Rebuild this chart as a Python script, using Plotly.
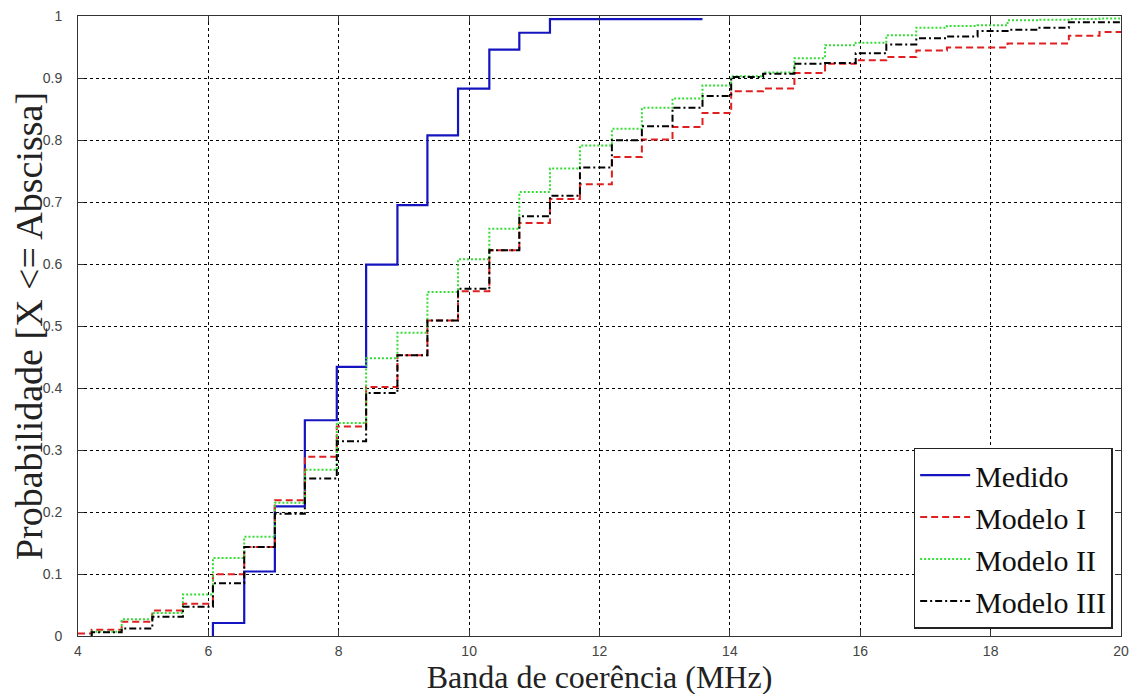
import plotly.graph_objects as go

# ---- data ----
model_edges = [4.21, 4.67, 5.14, 5.61, 6.07, 6.55, 7.02, 7.48, 7.97, 8.42, 8.90, 9.36,
               9.83, 10.31, 10.77, 11.24, 11.70, 12.19, 12.65, 13.12, 13.58, 14.02,
               14.51, 14.99, 15.46, 15.93, 16.40, 16.86, 17.33, 17.80, 18.26, 18.73,
               19.20, 19.67]
modelo1 = [0.010, 0.023, 0.041, 0.052, 0.0995, 0.1435, 0.219, 0.289, 0.338, 0.4016,
           0.4527, 0.509, 0.556, 0.622, 0.666, 0.705, 0.7285, 0.7726, 0.801, 0.821,
           0.8435, 0.8785, 0.883, 0.908, 0.923, 0.9285, 0.934, 0.9445, 0.949, 0.949,
           0.9555, 0.9555, 0.968, 0.974]
modelo2 = [0.007, 0.027, 0.037, 0.067, 0.126, 0.160, 0.215, 0.268, 0.3435, 0.448,
           0.489, 0.555, 0.6076, 0.657, 0.716, 0.754, 0.791, 0.818, 0.852, 0.867,
           0.888, 0.903, 0.9087, 0.932, 0.9527, 0.957, 0.969, 0.981, 0.984, 0.985,
           0.993, 0.994, 0.995, 0.996]
modelo3 = [0.006, 0.012, 0.031, 0.047, 0.085, 0.1435, 0.197, 0.254, 0.314, 0.392,
           0.4527, 0.509, 0.560, 0.622, 0.677, 0.710, 0.7555, 0.7995, 0.822, 0.852,
           0.871, 0.9016, 0.907, 0.923, 0.924, 0.940, 0.954, 0.964, 0.967, 0.976,
           0.978, 0.981, 0.990, 0.990]
modelo1_start = (4.0, 0.004)

medido_edges = [6.07, 6.55, 7.02, 7.48, 7.97, 8.42, 8.90, 9.36, 9.83, 10.31, 10.77, 11.24]
medido = [0.021, 0.104, 0.209, 0.348, 0.434, 0.599, 0.695, 0.8076, 0.883, 0.9457, 0.973, 0.995]
medido_end = 13.58

x_end = 20.0
xticks = [4, 6, 8, 10, 12, 14, 16, 18, 20]
yticks = [0, 0.1, 0.2, 0.3, 0.4, 0.5, 0.6, 0.7, 0.8, 0.9, 1]
ytick_text = ["0", "0.1", "0.2", "0.3", "0.4", "0.5", "0.6", "0.7", "0.8", "0.9", "1"]


def step_series(edges, levels, end, start=None):
    if start is None:
        xs = [edges[0]] + list(edges) + [end]
        ys = [0.0] + list(levels) + [levels[-1]]
    else:
        xs = [start[0]] + list(edges) + [end]
        ys = [start[1]] + list(levels) + [levels[-1]]
    return xs, ys


fig = go.Figure()

mx, my = step_series(medido_edges, medido, medido_end)
fig.add_trace(go.Scatter(x=mx, y=my, mode="lines", name="Medido", line_shape="hv",
                         line=dict(color="#1414C0", width=2.2)))
x1, y1 = step_series(model_edges, modelo1, x_end, start=modelo1_start)
fig.add_trace(go.Scatter(x=x1, y=y1, mode="lines", name="Modelo I", line_shape="hv",
                         line=dict(color="#E02020", width=2, dash="7px,4px")))
x2, y2 = step_series(model_edges, modelo2, x_end)
fig.add_trace(go.Scatter(x=x2, y=y2, mode="lines", name="Modelo II", line_shape="hv",
                         line=dict(color="#33DD33", width=2, dash="2px,2px")))
x3, y3 = step_series(model_edges, modelo3, x_end)
fig.add_trace(go.Scatter(x=x3, y=y3, mode="lines", name="Modelo III", line_shape="hv",
                         line=dict(color="#000000", width=2, dash="7px,3px,2px,3px")))

axis_common = dict(
    showline=True, linecolor="#333333", linewidth=1, mirror="ticks",
    ticks="inside", ticklen=6, tickcolor="#333333",
    showgrid=True, gridcolor="#000000", gridwidth=1, griddash="3px,3px",
    zeroline=False, automargin=False, ticklabeloverflow="allow",
    tickfont=dict(family="Liberation Sans, Arial", size=14, color="#444444"),
)

# The page body has an 8px default margin, so margins are offset to match.
fig.update_layout(
    width=1137, height=694,
    margin=dict(l=70, r=24, t=8, b=66),
    paper_bgcolor="white", plot_bgcolor="white",
    xaxis=dict(range=[4, 20], tickvals=xticks, ticklabelstandoff=2, **axis_common,
               title=dict(text="Banda de coerência (MHz)", standoff=4,
                          font=dict(family="Liberation Serif, Times New Roman", size=32, color="#222222"))),
    yaxis=dict(range=[0, 1], tickvals=yticks, ticktext=ytick_text, ticklabelstandoff=12, **axis_common,
               title=dict(text="Probabilidade [X <= Abscissa]", standoff=4,
                          font=dict(family="Liberation Serif, Times New Roman", size=38, color="#222222"))),
    legend=dict(x=0.992, y=0.012, xanchor="right", yanchor="bottom",
                bgcolor="white", bordercolor="#222222", borderwidth=1.5,
                font=dict(family="Liberation Serif, Times New Roman", size=30, color="#111111"),
                tracegroupgap=0, itemwidth=50),
    showlegend=True,
)

fig.write_html("out.html")
